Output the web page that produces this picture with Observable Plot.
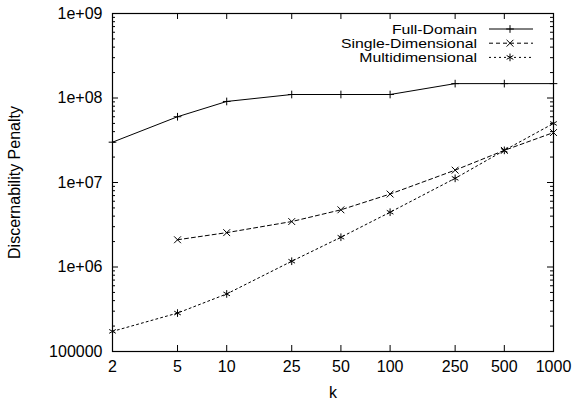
<!DOCTYPE html>
<html><head><meta charset="utf-8">
<script src="https://cdn.jsdelivr.net/npm/d3@7"></script>
<script src="https://cdn.jsdelivr.net/npm/@observablehq/plot@0.6"></script>
<style>body{margin:0;background:#fff}</style>
</head><body><div id="chart"></div>
<script>
const kValues = [2, 5, 10, 25, 50, 100, 250, 500, 1000];
const fullDomain = [3.0e7, 6.0e7, 9.1e7, 1.1e8, 1.1e8, 1.1e8, 1.48e8, 1.48e8, 1.48e8];
const singleDimensional = [null, 2.1e6, 2.55e6, 3.45e6, 4.75e6, 7.3e6, 1.4e7, 2.4e7, 3.9e7];
const multidimensional = [1.73e5, 2.85e5, 4.8e5, 1.17e6, 2.25e6, 4.45e6, 1.12e7, 2.4e7, 5.0e7];
const seriesNames = ["Full-Domain", "Single-Dimensional", "Multidimensional"];
const yTicks = [1e5, 1e6, 1e7, 1e8, 1e9];
const yTickLabels = ["100000", "1e+06", "1e+07", "1e+08", "1e+09"];
const xLabel = "k";
const yLabel = "Discernability Penalty";

const W = 579, H = 399;
const mL = 112, mR = 26, mT = 13, mB = 48;
const pw = W - mL - mR, ph = H - mT - mB;
const FONT = "'Liberation Sans', Arial, sans-serif";

const styles = [
  {symbol: "plus", r: 2.6, dash: null},
  {symbol: "times", r: 3.2, dash: "4,3"},
  {symbol: "asterisk", r: 3.6, dash: "2,3"}
];
const allSeries = [fullDomain, singleDimensional, multidimensional];
const rows = allSeries.map((vals, i) =>
  kValues.map((k, j) => ({k, v: vals[j], series: seriesNames[i]})).filter(d => d.v != null));

const minorTicks = [];
for (let d = 1e5; d < 1e9; d *= 10) for (let m = 2; m <= 9; m++) minorTicks.push(d * m);

const symbolMap = {plus: d3.symbolPlus, times: d3.symbolTimes, asterisk: d3.symbolAsterisk};
const ctx = document.createElement("canvas").getContext("2d");
ctx.font = `15.8px ${FONT}`;

function legend(index, scales, values, dims) {
  const g = d3.create("svg:g").attr("font-size", 13);
  const right = dims.width - dims.marginRight;
  const top = dims.marginTop;
  seriesNames.forEach((name, i) => {
    const y = top + 16 + i * 14.2;
    g.append("text").attr("x", right - 76).attr("y", y).attr("dy", "0.36em")
      .attr("text-anchor", "end").attr("fill", "black")
      .attr("textLength", ctx.measureText(name).width.toFixed(1))
      .attr("lengthAdjust", "spacingAndGlyphs").text(name);
    const ln = g.append("line").attr("x1", right - 64).attr("x2", right - 20)
      .attr("y1", y).attr("y2", y).attr("stroke", "black").attr("stroke-width", 1);
    if (styles[i].dash) ln.attr("stroke-dasharray", styles[i].dash);
    const r = styles[i].r;
    g.append("path").attr("transform", `translate(${right - 43},${y})`)
      .attr("d", d3.symbol(symbolMap[styles[i].symbol], Math.PI * r * r)())
      .attr("fill", "none").attr("stroke", "black").attr("stroke-width", 1);
  });
  return g.node();
}

const marks = [
  Plot.frame({stroke: "black", strokeWidth: 1.2}),
  Plot.tickX(kValues, {x: d => d, insetTop: ph - 6, stroke: "black"}),
  Plot.tickX(kValues, {x: d => d, insetBottom: ph - 6, stroke: "black"}),
  Plot.tickY(yTicks, {y: d => d, insetRight: pw - 6, stroke: "black"}),
  Plot.tickY(yTicks, {y: d => d, insetLeft: pw - 6, stroke: "black"}),
  Plot.tickY(minorTicks, {y: d => d, insetRight: pw - 3, stroke: "black"}),
  Plot.tickY(minorTicks, {y: d => d, insetLeft: pw - 3, stroke: "black"}),
  Plot.text(kValues, {x: d => d, text: d => String(d), frameAnchor: "bottom",
    lineAnchor: "top", dy: 9, fill: "black"}),
  Plot.axisX({ticks: [], tickSize: 0, label: xLabel, labelAnchor: "center",
    labelArrow: "none", labelOffset: 46}),
  Plot.axisY({ticks: yTicks, tickSize: 0, tickPadding: 10,
    tickFormat: d => yTickLabels[yTicks.indexOf(d)],
    label: yLabel, labelAnchor: "center", labelArrow: "none", labelOffset: 104})
];
rows.forEach((data, i) => {
  marks.push(Plot.line(data, {x: "k", y: "v", stroke: "black", strokeWidth: 1,
    strokeDasharray: styles[i].dash || undefined}));
  marks.push(Plot.dot(data, {x: "k", y: "v", symbol: () => styles[i].symbol, r: styles[i].r,
    stroke: "black", strokeWidth: 1, fill: "none"}));
});
marks.push(legend);

const chart = Plot.plot({
  width: W, height: H,
  marginLeft: mL, marginRight: mR, marginTop: mT, marginBottom: mB,
  style: {fontFamily: FONT, fontSize: "16px", background: "white", color: "black"},
  x: {type: "log", domain: [2, 1000]},
  y: {type: "log", domain: [1e5, 1e9]},
  symbol: {type: "identity"},
  marks
});
document.getElementById("chart").appendChild(chart);
</script>
</body></html>
